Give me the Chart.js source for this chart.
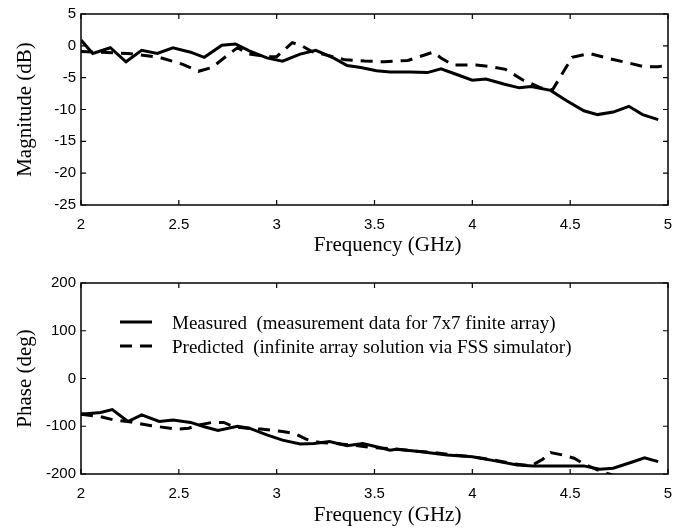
<!DOCTYPE html>
<html><head><meta charset="utf-8">
<script src="https://cdn.jsdelivr.net/npm/chart.js@4/dist/chart.umd.min.js"></script>
<style>
html,body{margin:0;padding:0;background:#fff;}
#wrap{position:relative;width:686px;height:529px;overflow:hidden;background:#fff;}
#c1{position:absolute;left:0;top:0;}
#c2{position:absolute;left:0;top:262px;}
</style></head><body>
<div id="wrap">
<canvas id="c1" width="686" height="258"></canvas>
<canvas id="c2" width="686" height="266"></canvas>
</div>
<script>
// ---- data ----
const xTickValues = [2, 2.5, 3, 3.5, 4, 4.5, 5];

const measMagFreq = [2.00,2.06,2.15,2.23,2.31,2.39,2.47,2.56,2.63,2.72,2.79,2.86,2.95,3.03,3.12,3.20,3.29,3.36,3.43,3.51,3.58,3.68,3.77,3.84,3.92,4.00,4.07,4.16,4.24,4.30,4.40,4.48,4.57,4.64,4.72,4.80,4.87,4.95];
const measMagDb   = [0.9,-1.2,-0.3,-2.5,-0.7,-1.2,-0.3,-1.0,-1.8,0.1,0.3,-0.8,-1.9,-2.4,-1.3,-0.7,-1.9,-3.1,-3.4,-3.9,-4.1,-4.1,-4.2,-3.6,-4.5,-5.4,-5.2,-6.0,-6.6,-6.4,-7.0,-8.6,-10.2,-10.8,-10.4,-9.5,-10.8,-11.6];

const predMagFreq = [2.00,2.10,2.24,2.40,2.52,2.60,2.67,2.76,2.80,2.86,2.95,3.00,3.08,3.13,3.18,3.26,3.35,3.45,3.55,3.67,3.80,3.84,3.90,4.02,4.10,4.17,4.26,4.35,4.41,4.51,4.60,4.70,4.80,4.88,4.95,5.00];
const predMagDb   = [-0.9,-1.0,-1.2,-1.8,-2.9,-4.0,-3.4,-1.2,-0.3,-1.3,-1.7,-1.7,0.5,0.0,-0.9,-1.5,-2.2,-2.4,-2.5,-2.3,-1.0,-1.9,-3.0,-3.0,-3.3,-3.7,-5.4,-6.6,-6.9,-1.8,-1.2,-2.0,-2.7,-3.3,-3.3,-3.0];

const measPhaseFreq = [2.00,2.03,2.10,2.16,2.24,2.31,2.40,2.47,2.56,2.63,2.70,2.80,2.86,2.95,3.03,3.12,3.19,3.27,3.36,3.44,3.51,3.58,3.61,3.73,3.87,4.00,4.11,4.23,4.31,4.45,4.57,4.65,4.72,4.81,4.88,4.95];
const measPhaseDeg  = [-74,-74,-71,-65,-90,-76,-90,-87,-92,-101,-109,-100,-104,-118,-129,-137,-136,-132,-141,-136,-143,-150,-148,-153,-160,-164,-172,-181,-183,-183,-183,-190,-188,-176,-166,-174];

const predPhaseFreq = [2.00,2.10,2.17,2.24,2.36,2.49,2.55,2.61,2.67,2.73,2.78,2.85,2.92,2.97,3.03,3.09,3.15,3.22,3.30,3.40,3.50,3.60,3.70,3.80,3.90,4.00,4.10,4.20,4.30,4.36,4.40,4.46,4.52,4.58,4.63,4.69,4.80,5.00];
const predPhaseDeg  = [-75,-80,-87,-90,-99,-106,-104,-97,-92,-92,-101,-104,-106,-108,-111,-115,-127,-134,-136,-140,-145,-147,-152,-155,-160,-164,-170,-178,-183,-169,-155,-160,-167,-181,-190,-199,-212,-220];

const legendLabels = ['Measured  (measurement data for 7x7 finite array)', 'Predicted  (infinite array solution via FSS simulator)'];

const pts = (xs, ys) => xs.map((x, i) => ({x, y: ys[i]}));

const TICK_FONT = {family: "'Liberation Sans', Arial, sans-serif", size: 15};
const TITLE_FONT = {family: "'Liberation Serif', 'Times New Roman', serif", size: 21, lineHeight: 1.2};
const X_TITLE = '\u00a0\u00a0\u00a0\u00a0\u00a0Frequency (GHz)';

const framePlugin = {
  id: 'frame',
  afterDraw(chart) {
    const {ctx, chartArea: a, scales: {x, y}} = chart;
    ctx.save();
    ctx.strokeStyle = '#000';
    ctx.lineWidth = 1.5;
    ctx.strokeRect(a.left, a.top, a.right - a.left, a.bottom - a.top);
    ctx.lineWidth = 1.2;
    ctx.beginPath();
    x.ticks.forEach(t => {
      const px = x.getPixelForValue(t.value);
      ctx.moveTo(px, a.bottom); ctx.lineTo(px, a.bottom - 5);
      ctx.moveTo(px, a.top); ctx.lineTo(px, a.top + 5);
    });
    y.ticks.forEach(t => {
      const py = y.getPixelForValue(t.value);
      ctx.moveTo(a.left, py); ctx.lineTo(a.left + 5, py);
      ctx.moveTo(a.right, py); ctx.lineTo(a.right - 5, py);
    });
    ctx.stroke();
    ctx.restore();
  }
};

const legendPlugin = {
  id: 'insideLegend',
  afterDraw(chart) {
    const ctx = chart.ctx;
    const a = chart.chartArea;
    const x0 = 120, x1 = 152, tx = 172;
    const rows = [a.top + 39, a.top + 63];
    ctx.save();
    ctx.strokeStyle = '#000';
    ctx.lineWidth = 3;
    chart.data.datasets.forEach((ds, i) => {
      ctx.setLineDash(ds.borderDash || []);
      ctx.beginPath();
      ctx.moveTo(x0, rows[i]); ctx.lineTo(x1, rows[i]);
      ctx.stroke();
    });
    ctx.setLineDash([]);
    ctx.fillStyle = '#000';
    ctx.font = "19px 'Liberation Serif', 'Times New Roman', serif";
    ctx.textBaseline = 'middle';
    legendLabels.forEach((t, i) => ctx.fillText(t, tx, rows[i] + 2));
    ctx.restore();
  }
};

function makeChart(id, datasets, yMin, yMax, yStep, yTitle, topPad, xHeight, extraPlugins) {
  return new Chart(document.getElementById(id), {
    type: 'line',
    data: {datasets},
    options: {
      responsive: false,
      animation: false,
      devicePixelRatio: 1,
      layout: {padding: {left: 0, right: 18, top: topPad, bottom: 0}},
      plugins: {legend: {display: false}, tooltip: {enabled: false}},
      elements: {point: {radius: 0}, line: {tension: 0}},
      scales: {
        x: {
          type: 'linear', min: 2, max: 5,
          afterBuildTicks: s => { s.ticks = xTickValues.map(v => ({value: v})); },
          afterFit: s => { s.height = xHeight; },
          grid: {display: false, drawTicks: false},
          border: {display: false},
          ticks: {color: '#000', font: TICK_FONT, padding: 11, maxRotation: 0, callback: v => String(v)},
          title: {display: true, text: X_TITLE, color: '#000', font: TITLE_FONT, padding: 0}
        },
        y: {
          min: yMin, max: yMax,
          ticks: {stepSize: yStep, color: '#000', font: TICK_FONT, padding: 5, callback: v => String(v)},
          afterFit: s => { s.width = 81; },
          grid: {display: false, drawTicks: false},
          border: {display: false},
          title: {display: true, text: yTitle, color: '#000', font: TITLE_FONT, padding: 13}
        }
      }
    },
    plugins: [framePlugin].concat(extraPlugins)
  });
}

const solid = {borderColor: '#000', borderWidth: 3, fill: false};
const dashed = {borderColor: '#000', borderWidth: 3, fill: false, borderDash: [12, 8]};

makeChart('c1', [
  Object.assign({label: 'Measured', data: pts(measMagFreq, measMagDb)}, solid),
  Object.assign({label: 'Predicted', data: pts(predMagFreq, predMagDb)}, dashed)
], -25, 5, 5, 'Magnitude (dB)', 13, 53, []);

makeChart('c2', [
  Object.assign({label: 'Measured', data: pts(measPhaseFreq, measPhaseDeg)}, solid),
  Object.assign({label: 'Predicted', data: pts(predPhaseFreq, predPhaseDeg)}, dashed)
], -200, 200, 100, 'Phase (deg)', 21, 54, [legendPlugin]);
</script>
</body></html>
